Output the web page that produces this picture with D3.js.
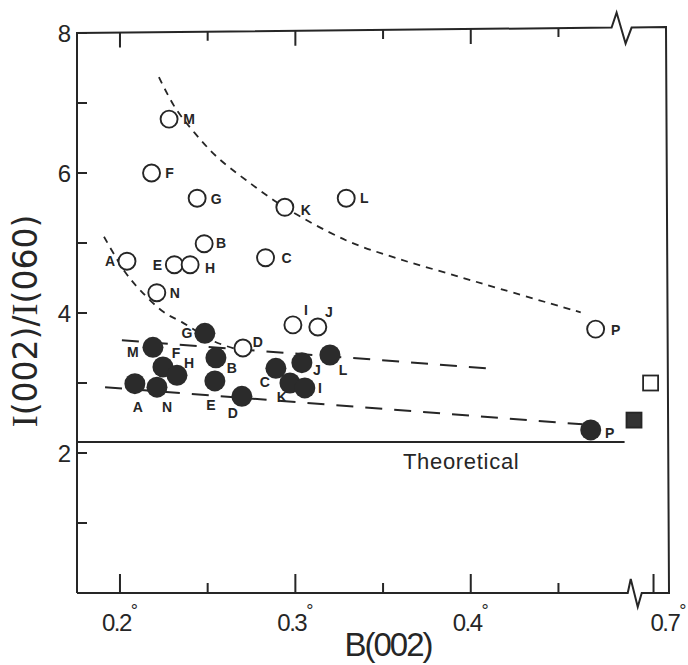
<!DOCTYPE html>
<html>
<head>
<meta charset="utf-8">
<script src="https://cdn.jsdelivr.net/npm/d3@7"></script>
<style>
  body { margin: 0; background: #fff; }
</style>
</head>
<body>
<div id="vis"></div>
<script>
// open circles
const openLabels = ["M", "F", "G", "K", "L", "B", "A", "E", "H", "C", "N", "I", "J", "P", "D"];
const openB = [0.228, 0.218, 0.244, 0.294, 0.329, 0.248, 0.204, 0.231, 0.240, 0.283, 0.221, 0.2986, 0.3128, 0.4712, 0.2701];
const openRatio = [6.77, 6.00, 5.64, 5.51, 5.64, 4.99, 4.74, 4.69, 4.69, 4.79, 4.29, 3.83, 3.80, 3.77, 3.50];

// filled circles
const filledLabels = ["G", "M", "F", "H", "A", "N", "B", "E", "D", "C", "J", "K", "I", "L", "P"];
const filledB = [0.2484, 0.2188, 0.2245, 0.2325, 0.2085, 0.2211, 0.2547, 0.2541, 0.2695, 0.2889, 0.3037, 0.2969, 0.3054, 0.3197, 0.4684];
const filledRatio = [3.71, 3.51, 3.23, 3.11, 2.99, 2.94, 3.36, 3.03, 2.81, 3.21, 3.29, 3.00, 2.93, 3.40, 2.33];

// squares beyond the axis break
const squareB = [0.6982, 0.688];
const squareRatio = [3.00, 2.47];
const squareFilled = [false, true];

// fitted curves / trend lines
const upperCurveB = [0.2222, 0.2313, 0.2427, 0.2553, 0.2718, 0.2940, 0.3288, 0.3567, 0.3863, 0.4188, 0.4627];
const upperCurveR = [7.37, 6.94, 6.57, 6.23, 5.90, 5.51, 5.04, 4.79, 4.57, 4.33, 4.01];
const lowerCurveB = [0.1909, 0.2028, 0.2114, 0.2251, 0.2353, 0.2541, 0.2684];
const lowerCurveR = [5.09, 4.59, 4.33, 4.01, 3.87, 3.59, 3.47];
const upperTrendB = [0.2011, 0.4091];
const upperTrendR = [3.61, 3.21];
const lowerTrendB = [0.1915, 0.4638];
const lowerTrendR = [2.94, 2.41];
const theoreticalB = [0.1755, 0.4877];
const theoreticalR = 2.157;

const yTicks = [1, 2, 3, 4, 5, 6, 7, 8];
const yTickLabels = ["", "2", "", "4", "", "6", "", "8"];
const xTicks = [0.2, 0.25, 0.3, 0.35, 0.4, 0.45, 0.7];
const xTickLabels = ["0.2", "", "0.3", "", "0.4", "", "0.7"];

// label placement (pixels relative to the marker)
const openOffsets = {
  M: [20, 0], F: [18, 0], G: [19, 1], K: [21, 3], L: [18, 0], B: [17, -1], A: [-17, 0],
  E: [-17, 0], H: [20, 3], C: [21, 0], N: [18, 0], I: [13, -15], J: [11, -15], P: [20, 1], D: [15, -6]
};
const filledOffsets = {
  G: [-18, 0], M: [-20, 5], F: [13, -14], H: [12, -12], A: [3, 23], N: [10, 20], B: [16, 10],
  E: [-4, 24], D: [-9, 17], C: [-11, 14], K: [-8, 14], J: [15, 7], I: [15, 0], L: [13, 15], P: [19, 3]
};

function createVis() {
  const width = 688;
  const height = 665;
  const ink = "#262626";

  const x = d3.scaleLinear()
    .domain([0.1755, 0.4925, 0.688, 0.7095])
    .range([77, 633, 634, 669]);
  const y = d3.scaleLinear()
    .domain([0, 8])
    .range([593, 33]);

  const svg = d3.select("#vis")
    .append("svg")
    .attr("width", width)
    .attr("height", height)
    .attr("viewBox", [0, 0, width, height])
    .style("font-family", "'Liberation Sans', Arial, sans-serif");

  const xl = x(0.1755), xr = x(0.7095), yb = y(0), yt = y(8);
  const topAt = px => yt - 6 * (px - xl) / (xr - xl); // top edge rises a little to the right
  const tb = x(0.4803), bb = x(0.4895);

  // frame with the axis breaks
  svg.append("path")
    .attr("fill", "none")
    .attr("stroke", ink)
    .attr("stroke-width", 2)
    .attr("d", `M${xl},${yb}L${xl},${topAt(xl)}L${tb},${topAt(tb)}l5,-15l9,31l6,-16` +
      `L${xr - 3},${topAt(xr)}L${xr},${yb}L${bb + 14},${yb}l-4,14l-7,-28l-3,14L${xl},${yb}`);

  // ticks: y inside the left edge, x up from the bottom, x down from the tilted top
  const yTickPath = yTicks.map(d => `M${xl},${y(d)}h10`).join("");
  const xTickPath = xTicks.map((d, i) => `M${x(d)},${yb}v${xTickLabels[i] ? -19 : -10}`).join("");
  const topTickPath = xTicks.filter(d => d < 0.6)
    .map((d, i) => `M${x(d)},${topAt(x(d))}v${i % 2 === 0 ? 15 : 9}`).join("");
  svg.append("path")
    .attr("fill", "none")
    .attr("stroke", ink)
    .attr("stroke-width", 2)
    .attr("d", yTickPath + xTickPath + topTickPath);

  svg.append("g")
    .selectAll("text")
    .data(yTicks.filter((d, i) => yTickLabels[i]))
    .join("text")
    .attr("x", xl - 6)
    .attr("y", d => y(d))
    .attr("dy", "0.36em")
    .attr("text-anchor", "end")
    .attr("fill", ink)
    .style("font-size", "24px")
    .text(d => yTickLabels[yTicks.indexOf(d)]);

  const lab = svg.append("g")
    .selectAll("text")
    .data(xTicks.filter((d, i) => xTickLabels[i]))
    .join("text")
    .attr("text-anchor", "middle")
    .attr("x", d => x(d) + (d > 0.6 ? 15 : 0))
    .attr("y", yb + 38)
    .attr("fill", ink)
    .style("font-size", "24px");
  lab.append("tspan")
    .attr("letter-spacing", -1.5)
    .text(d => xTickLabels[xTicks.indexOf(d)]);
  lab.append("tspan")
    .attr("dy", -14)
    .style("font-size", "18px")
    .text("°");

  // theoretical line
  svg.append("line")
    .attr("x1", x(theoreticalB[0]))
    .attr("x2", x(theoreticalB[1]))
    .attr("y1", y(theoreticalR))
    .attr("y2", y(theoreticalR))
    .attr("stroke", ink)
    .attr("stroke-width", 1.8);
  svg.append("text")
    .attr("x", x(0.3613))
    .attr("y", y(theoreticalR) + 27)
    .attr("fill", ink)
    .attr("letter-spacing", 0.7)
    .style("font-size", "22px")
    .text("Theoretical");

  const line = d3.line().x(d => x(d[0])).y(d => y(d[1]));
  const curve = d3.line().x(d => x(d[0])).y(d => y(d[1])).curve(d3.curveCatmullRom);

  svg.append("path")
    .attr("d", curve(upperCurveB.map((b, i) => [b, upperCurveR[i]])))
    .attr("fill", "none").attr("stroke", ink).attr("stroke-width", 1.8)
    .attr("stroke-dasharray", "7,6");
  svg.append("path")
    .attr("d", curve(lowerCurveB.map((b, i) => [b, lowerCurveR[i]])))
    .attr("fill", "none").attr("stroke", ink).attr("stroke-width", 1.8)
    .attr("stroke-dasharray", "7,6");
  svg.append("path")
    .attr("d", line(upperTrendB.map((b, i) => [b, upperTrendR[i]])))
    .attr("fill", "none").attr("stroke", ink).attr("stroke-width", 2)
    .attr("stroke-dasharray", "17,12");
  svg.append("path")
    .attr("d", line(lowerTrendB.map((b, i) => [b, lowerTrendR[i]])))
    .attr("fill", "none").attr("stroke", ink).attr("stroke-width", 2)
    .attr("stroke-dasharray", "17,12");

  // open circles
  svg.append("g")
    .selectAll("circle")
    .data(openLabels)
    .join("circle")
    .attr("cx", (d, i) => x(openB[i]))
    .attr("cy", (d, i) => y(openRatio[i]))
    .attr("r", 8.5)
    .attr("fill", "#fff")
    .attr("stroke", ink)
    .attr("stroke-width", 1.9);

  // filled circles
  svg.append("g")
    .selectAll("circle")
    .data(filledLabels)
    .join("circle")
    .attr("cx", (d, i) => x(filledB[i]))
    .attr("cy", (d, i) => y(filledRatio[i]))
    .attr("r", 10.5)
    .attr("fill", "#2b2b2b");

  // squares
  svg.append("g")
    .selectAll("rect")
    .data(squareB)
    .join("rect")
    .attr("x", d => x(d) - 7.5)
    .attr("y", (d, i) => y(squareRatio[i]) - 7.5)
    .attr("width", 15)
    .attr("height", 15)
    .attr("fill", (d, i) => squareFilled[i] ? "#333" : "#fff")
    .attr("stroke", ink)
    .attr("stroke-width", 1.8);

  // point letters
  const labelStyle = sel => sel
    .attr("text-anchor", "middle")
    .attr("dominant-baseline", "central")
    .attr("fill", ink)
    .style("font-size", "14px")
    .style("font-weight", "bold")
    .text(d => d);

  svg.append("g")
    .selectAll("text")
    .data(openLabels)
    .join("text")
    .attr("x", (d, i) => x(openB[i]) + openOffsets[d][0])
    .attr("y", (d, i) => y(openRatio[i]) + openOffsets[d][1])
    .call(labelStyle);

  svg.append("g")
    .selectAll("text")
    .data(filledLabels)
    .join("text")
    .attr("x", (d, i) => x(filledB[i]) + filledOffsets[d][0])
    .attr("y", (d, i) => y(filledRatio[i]) + filledOffsets[d][1])
    .call(labelStyle);

  // axis titles
  svg.append("text")
    .attr("x", 388)
    .attr("y", 656)
    .attr("text-anchor", "middle")
    .attr("fill", ink)
    .attr("letter-spacing", -2)
    .style("font-size", "33px")
    .text("B(002)");

  const yTitle = svg.append("text")
    .attr("transform", "translate(37,321) rotate(-90)")
    .attr("text-anchor", "middle")
    .attr("fill", ink)
    .style("font-family", "'DejaVu Sans', sans-serif")
    .style("font-size", "33px");
  [["I", true], ["(002)/", false], ["I", true], ["(060)", false]].forEach(([t, serif]) => {
    yTitle.append("tspan")
      .style("font-family", serif ? "'Liberation Serif', serif" : null)
      .style("font-size", serif ? "36px" : null)
      .text(t);
  });
}

window.addEventListener("load", createVis);
</script>
</body>
</html>
